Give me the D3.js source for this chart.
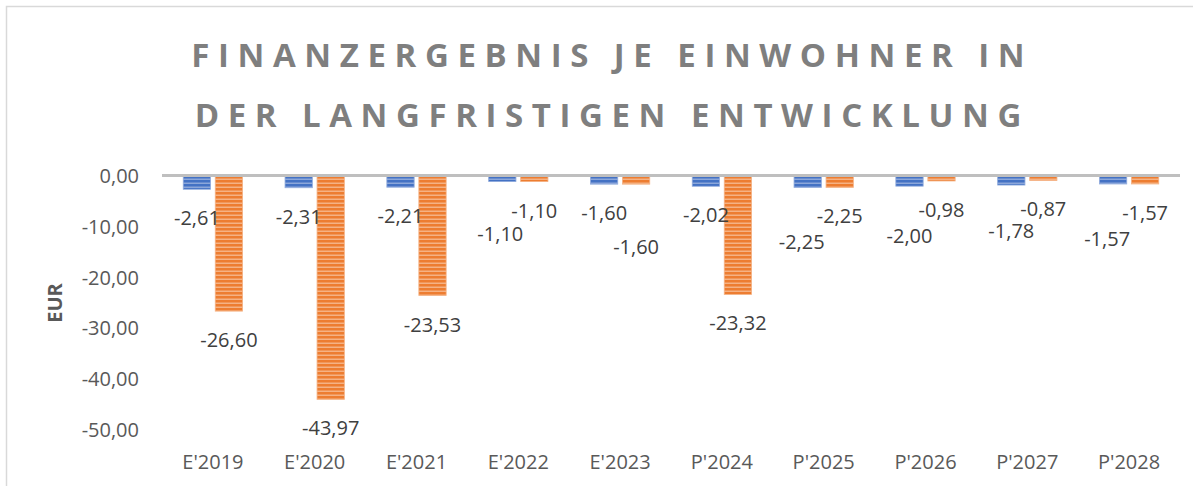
<!DOCTYPE html>
<html>
<head>
<meta charset="utf-8">
<script src="https://cdn.jsdelivr.net/npm/d3@7"></script>
<style>
  body { margin: 0; background: #fff; }
  text { font-family: "Open Sans", sans-serif; }
</style>
</head>
<body>
<div id="chart"></div>
<script>

// data
var categories = ["E'2019", "E'2020", "E'2021", "E'2022", "E'2023", "P'2024", "P'2025", "P'2026", "P'2027", "P'2028"];
var seriesBlue = [-2.61, -2.31, -2.21, -1.10, -1.60, -2.02, -2.25, -2.00, -1.78, -1.57];
var seriesOrange = [-26.60, -43.97, -23.53, -1.10, -1.60, -23.32, -2.25, -0.98, -0.87, -1.57];
var yTicks = [0, -10, -20, -30, -40, -50];
var titleLines = ["FINANZERGEBNIS JE EINWOHNER IN", "DER LANGFRISTIGEN ENTWICKLUNG"];

// manual label nudges (like the moved labels in the original), in px
var blueLabelNudge = [[0,0],[0,0],[0,0],[-2,23],[0,0],[0,0],[-6,26],[0,21],[0,17],[-6,26]];
var orangeLabelNudge = [[0,0],[0,0],[0,0],[0,0],[0,34],[0,0],[0,0],[0,0],[0,0],[0,0]];

var width = 1203, height = 486;
var plot = {left: 162, right: 1180, top: 176, bottom: 430};

var svg = d3.select("#chart")
    .append("svg")
    .attr("width", width)
    .attr("height", height);

var locale = d3.formatLocale({decimal: ",", thousands: ".", grouping: [3], currency: ["", " €"], minus: "-"});
var fmt = locale.format(".2f");

// chart border (only top and left are visible in the picture)
svg.append("path")
    .attr("d", "M6.5," + height + "V6.5H1193")
    .attr("fill", "none")
    .attr("stroke", "#d9d9d9")
    .attr("stroke-width", 1.5);

// stripe patterns
var defs = svg.append("defs");
function stripes(id, base, light) {
    var p = defs.append("pattern")
        .attr("id", id)
        .attr("patternUnits", "userSpaceOnUse")
        .attr("width", 4)
        .attr("height", 4);
    p.append("rect").attr("width", 4).attr("height", 4).attr("fill", base);
    p.append("rect").attr("y", 2.6).attr("width", 4).attr("height", 1.2).attr("fill", light);
}
stripes("blueStripe", "#4472c4", "#9db4e0");
stripes("orangeStripe", "#ed7d31", "#f7bf98");

// scales
var x0 = d3.scaleBand()
    .domain(categories)
    .range([plot.left, plot.right]);

var groupW = 59.3;
var x1 = d3.scaleBand()
    .domain(["blue", "orange"])
    .range([0, groupW])
    .paddingInner(0.147);

var y = d3.scaleLinear()
    .domain([-50, 0])
    .range([plot.bottom, plot.top]);

// title
var title = svg.append("g");
var titleTexts = title.selectAll("text")
    .data(titleLines)
    .enter()
    .append("text")
    .attr("y", function (d, i) { return 67 + i * 60; })
    .attr("font-size", 33)
    .attr("font-weight", "bold")
    .attr("fill", "#7f7f7f")
    .text(function (d) { return d; });

// fit letter spacing on the first word, then word spacing on the whole line
var probe = title.append("text")
    .attr("font-size", 33)
    .attr("font-weight", "bold")
    .text("FINANZERGEBNIS");
var ls = (397 - probe.node().getComputedTextLength()) / 13;
probe.remove();
titleTexts.attr("letter-spacing", ls);
var lineW = titleTexts.nodes()[0].getComputedTextLength() - ls;
var ws = (833 - lineW) / 4;
titleTexts.attr("word-spacing", ws)
    .attr("x", function (d) {
        var w = this.getComputedTextLength() - ls;
        return 608 - w / 2;
    });

// y axis labels
svg.append("g")
    .selectAll("text")
    .data(yTicks)
    .enter()
    .append("text")
    .attr("x", 139)
    .attr("y", function (d) { return y(d); })
    .attr("dy", "0.35em")
    .attr("text-anchor", "end")
    .attr("font-size", 20)
    .attr("fill", "#595959")
    .text(function (d) { return fmt(d); });

// y axis title
svg.append("text")
    .attr("transform", "translate(62,303) rotate(-90)")
    .attr("text-anchor", "middle")
    .attr("font-size", 20)
    .attr("font-weight", "bold")
    .attr("fill", "#595959")
    .text("EUR");

// x axis labels
svg.append("g")
    .selectAll("text")
    .data(categories)
    .enter()
    .append("text")
    .attr("x", function (d) { return x0(d) + x0.bandwidth() / 2; })
    .attr("y", 462)
    .attr("dy", "0.35em")
    .attr("text-anchor", "middle")
    .attr("font-size", 20)
    .attr("fill", "#595959")
    .text(function (d) { return d; });

// bars
var rows = categories.map(function (c, i) {
    return [
        {cat: c, key: "blue", value: seriesBlue[i], nudge: blueLabelNudge[i]},
        {cat: c, key: "orange", value: seriesOrange[i], nudge: orangeLabelNudge[i]}
    ];
});

var groups = svg.selectAll(".grp")
    .data(rows)
    .enter()
    .append("g")
    .attr("class", "grp")
    .attr("transform", function (d) {
        return "translate(" + (x0(d[0].cat) + (x0.bandwidth() - groupW) / 2) + ",0)";
    });

groups.selectAll("rect")
    .data(function (d) { return d; })
    .enter()
    .append("rect")
    .attr("x", function (d) { return x1(d.key); })
    .attr("y", y(0))
    .attr("width", x1.bandwidth())
    .attr("height", function (d) { return y(d.value) - y(0); })
    .attr("fill", function (d) { return d.key == "blue" ? "url(#blueStripe)" : "url(#orangeStripe)"; })
    .attr("stroke", function (d) { return d.key == "blue" ? "#8faadc" : "#f4b183"; })
    .attr("stroke-width", 0.8);

// data labels
groups.selectAll(".lbl")
    .data(function (d) { return d; })
    .enter()
    .append("text")
    .attr("class", "lbl")
    .attr("x", function (d) { return x1(d.key) + x1.bandwidth() / 2 + d.nudge[0]; })
    .attr("y", function (d) { return y(d.value) + 29 + d.nudge[1]; })
    .attr("dy", "0.35em")
    .attr("text-anchor", "middle")
    .attr("font-size", 20)
    .attr("fill", "#404040")
    .text(function (d) { return fmt(d.value); });

// zero line
svg.append("line")
    .attr("x1", plot.left)
    .attr("x2", plot.right)
    .attr("y1", y(0) - 0.5)
    .attr("y2", y(0) - 0.5)
    .attr("stroke", "#bfbfbf")
    .attr("stroke-width", 3);

</script>
</body>
</html>
